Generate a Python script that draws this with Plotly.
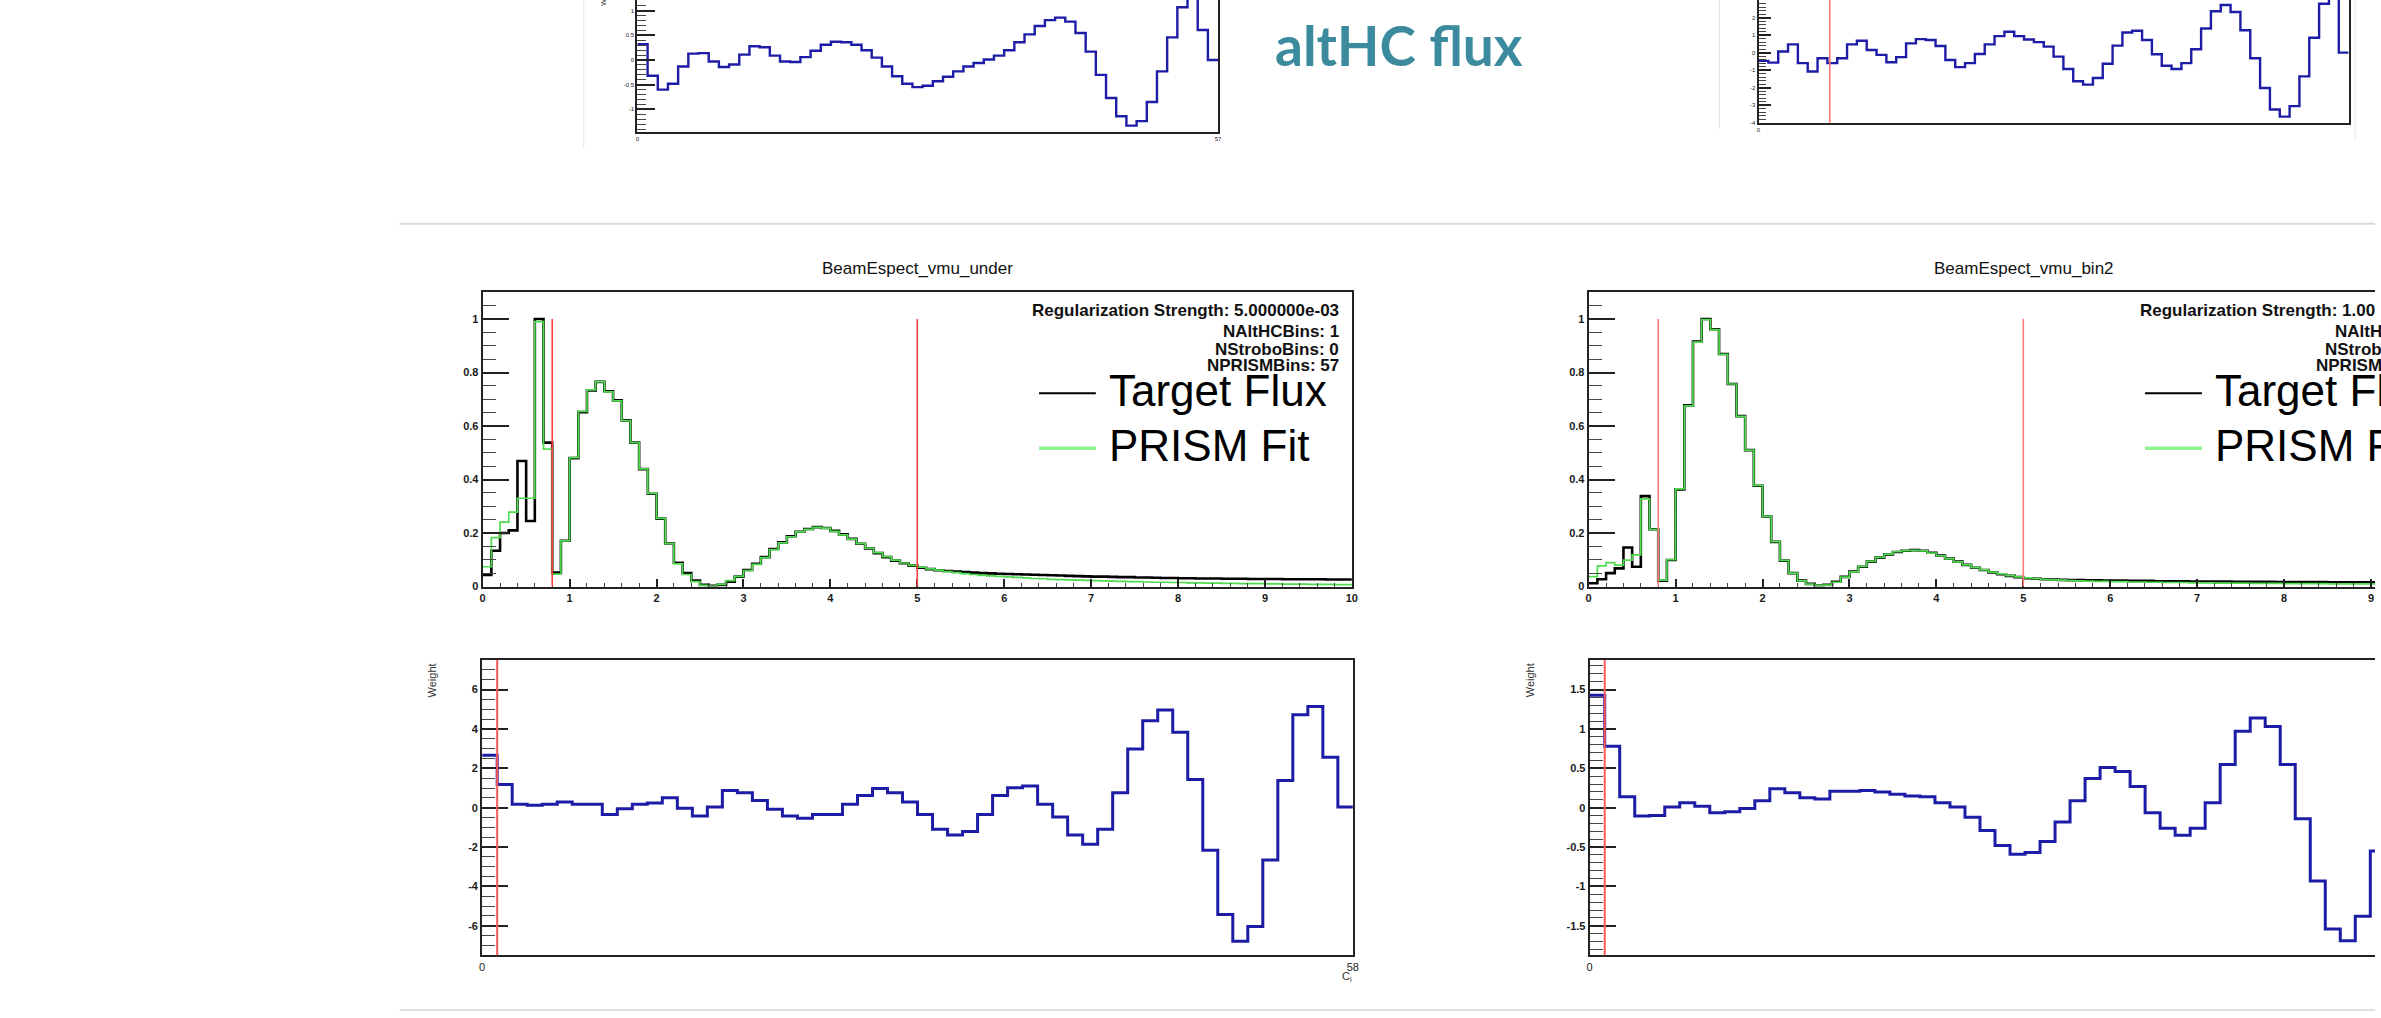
import plotly.graph_objects as go

W, H = 2381, 1018

# ---------------- data ----------------
E_STEP = 0.1  # GeV per bin in the flux panels

TARGET_UNDER = [
    0.043, 0.134, 0.200, 0.210, 0.469, 0.245, 1.000, 0.538, 0.052, 0.171,
    0.480, 0.652, 0.733, 0.765, 0.730, 0.696, 0.621, 0.538, 0.439, 0.347,
    0.254, 0.161, 0.089, 0.050, 0.022, 0.006, 0.003, 0.006, 0.018, 0.037,
    0.062, 0.085, 0.110, 0.140, 0.165, 0.188, 0.205, 0.215, 0.222, 0.219,
    0.208, 0.195, 0.178, 0.160, 0.142, 0.125, 0.110, 0.097, 0.087, 0.078,
    0.070, 0.065, 0.061, 0.058, 0.056, 0.054, 0.052, 0.050, 0.049, 0.048,
    0.047, 0.046, 0.045, 0.044, 0.043, 0.042, 0.041, 0.040, 0.039, 0.038,
    0.037, 0.037, 0.036, 0.035, 0.035, 0.034, 0.034, 0.033, 0.032, 0.032,
    0.031, 0.031, 0.030, 0.030, 0.030, 0.029, 0.029, 0.029, 0.028, 0.028,
    0.028, 0.028, 0.027, 0.027, 0.027, 0.027, 0.027, 0.026, 0.026, 0.026,
]
FIT_UNDER = [
    0.074, 0.183, 0.241, 0.278, 0.330, 0.330, 0.990, 0.514, 0.046, 0.171,
    0.482, 0.655, 0.735, 0.765, 0.728, 0.694, 0.620, 0.538, 0.440, 0.348,
    0.255, 0.160, 0.085, 0.045, 0.018, 0.004, 0.002, 0.008, 0.022, 0.038,
    0.060, 0.083, 0.108, 0.138, 0.163, 0.186, 0.204, 0.214, 0.221, 0.218,
    0.206, 0.193, 0.177, 0.160, 0.143, 0.127, 0.112, 0.099, 0.088, 0.079,
    0.072, 0.066, 0.061, 0.056, 0.052, 0.048, 0.045, 0.042, 0.040, 0.038,
    0.036, 0.034, 0.032, 0.030, 0.029, 0.027, 0.026, 0.025, 0.024, 0.023,
    0.022, 0.021, 0.020, 0.019, 0.018, 0.018, 0.017, 0.016, 0.016, 0.015,
    0.015, 0.014, 0.014, 0.013, 0.013, 0.012, 0.012, 0.011, 0.011, 0.011,
    0.010, 0.010, 0.009, 0.009, 0.009, 0.008, 0.008, 0.008, 0.007, 0.007,
]
TARGET_BIN2 = [
    0.012, 0.027, 0.050, 0.068, 0.146, 0.074, 0.338, 0.214, 0.022, 0.099,
    0.363, 0.677, 0.916, 1.000, 0.962, 0.869, 0.757, 0.637, 0.510, 0.377,
    0.262, 0.167, 0.097, 0.050, 0.022, 0.010, 0.004, 0.006, 0.018, 0.036,
    0.056, 0.074, 0.093, 0.108, 0.120, 0.129, 0.134, 0.136, 0.134, 0.126,
    0.116, 0.105, 0.093, 0.081, 0.070, 0.062, 0.053, 0.046, 0.040, 0.035,
    0.031, 0.029, 0.027, 0.026, 0.025, 0.024, 0.024, 0.023, 0.023, 0.022,
    0.022, 0.022, 0.021, 0.021, 0.021, 0.020, 0.020, 0.020, 0.020, 0.019,
    0.019, 0.019, 0.019, 0.019, 0.018, 0.018, 0.018, 0.018, 0.018, 0.017,
    0.017, 0.017, 0.017, 0.017, 0.017, 0.016, 0.016, 0.016, 0.016, 0.016,
    0.016, 0.015, 0.015, 0.015, 0.015, 0.015, 0.015, 0.014, 0.014, 0.014,
]
FIT_BIN2 = [
    0.037, 0.077, 0.089, 0.080, 0.099, 0.118, 0.328, 0.214, 0.024, 0.100,
    0.365, 0.675, 0.914, 0.998, 0.960, 0.868, 0.757, 0.636, 0.510, 0.378,
    0.262, 0.168, 0.098, 0.050, 0.021, 0.009, 0.004, 0.005, 0.016, 0.035,
    0.055, 0.075, 0.094, 0.109, 0.121, 0.130, 0.134, 0.135, 0.133, 0.125,
    0.115, 0.104, 0.092, 0.081, 0.071, 0.062, 0.054, 0.047, 0.041, 0.036,
    0.032, 0.029, 0.027, 0.025, 0.024, 0.022, 0.021, 0.020, 0.019, 0.019,
    0.018, 0.018, 0.017, 0.017, 0.016, 0.016, 0.015, 0.015, 0.015, 0.014,
    0.014, 0.014, 0.013, 0.013, 0.013, 0.013, 0.012, 0.012, 0.012, 0.012,
    0.011, 0.011, 0.011, 0.011, 0.011, 0.010, 0.010, 0.010, 0.010, 0.010,
    0.010, 0.009, 0.009, 0.009, 0.009, 0.009, 0.009, 0.008, 0.008, 0.008,
]
WEIGHT_UNDER = [
    2.66, 1.18, 0.17, 0.13, 0.17, 0.29, 0.17, 0.17, -0.34, -0.05,
    0.17, 0.24, 0.50, -0.03, -0.42, 0.03, 0.88, 0.76, 0.37, -0.08,
    -0.42, -0.54, -0.34, -0.34, 0.17, 0.62, 0.98, 0.76, 0.29, -0.34,
    -1.10, -1.38, -1.21, -0.34, 0.62, 1.01, 1.10, 0.17, -0.47, -1.38,
    -1.85, -1.10, 0.76, 2.98, 4.42, 4.97, 3.83, 1.43, -2.16, -5.43,
    -6.78, -6.04, -2.66, 1.38, 4.72, 5.14, 2.56, 0.03,
]
WEIGHT_BIN2 = [  # bins visible before the right edge of the slide
    1.43, 0.78, 0.14, -0.105, -0.10, 0.01, 0.063, 0.02, -0.063, -0.05,
    -0.01, 0.09, 0.24, 0.19, 0.126, 0.11, 0.21, 0.21, 0.22, 0.20,
    0.17, 0.15, 0.14, 0.063, 0.01, -0.12, -0.29, -0.48, -0.59, -0.57,
    -0.43, -0.18, 0.09, 0.37, 0.51, 0.46, 0.27, -0.063, -0.26, -0.35,
    -0.26, 0.063, 0.55, 0.97, 1.14, 1.03, 0.55, -0.14, -0.93, -1.54,
    -1.69, -1.38, -0.55,
]
WEIGHT_TOP_LEFT = [
    0.32, -0.32, -0.60, -0.48, -0.13, 0.13, 0.14, -0.03, -0.14, -0.09,
    0.11, 0.28, 0.26, 0.09, -0.03, -0.04, 0.06, 0.19, 0.31, 0.37,
    0.36, 0.31, 0.20, 0.05, -0.13, -0.33, -0.48, -0.55, -0.52, -0.43,
    -0.34, -0.23, -0.13, -0.06, 0.01, 0.09, 0.20, 0.36, 0.52, 0.69,
    0.81, 0.86, 0.78, 0.55, 0.17, -0.30, -0.77, -1.14, -1.33, -1.24,
    -0.85, -0.23, 0.46, 1.07, 1.32, 0.61, 0.00,
]
WEIGHT_TOP_RIGHT = [
    -0.47, -0.57, 0.06, 0.47, -0.60, -1.08, -0.32, -0.60, -0.32, 0.47,
    0.68, 0.15, -0.13, -0.55, -0.26, 0.53, 0.77, 0.72, 0.38, -0.42,
    -0.83, -0.60, -0.08, 0.47, 0.94, 1.19, 0.94, 0.75, 0.60, 0.34,
    -0.23, -0.94, -1.64, -1.83, -1.45, -0.64, 0.40, 1.15, 1.25, 0.72,
    -0.09, -0.75, -0.94, -0.60, 0.19, 1.38, 2.36, 2.72, 2.32, 1.28,
    -0.32, -2.02, -3.25, -3.66, -3.06, -1.36, 0.85, 2.79, 3.30, 0.00,
]
N_WEIGHT_BINS = 58
FIT_WINDOW = [0.8, 5.0]
ALTHC_EDGE = 1
TOP_RIGHT_MARKER = 7.25

FLUX_Y_TICKS = [0, 0.2, 0.4, 0.6, 0.8, 1]
FLUX_X_TICKS = [0, 1, 2, 3, 4, 5, 6, 7, 8, 9, 10]
W_UNDER_TICKS = [-6, -4, -2, 0, 2, 4, 6]
W_BIN2_TICKS = [-1.5, -1, -0.5, 0, 0.5, 1, 1.5]
TL_TICKS = [-1, -0.5, 0, 0.5, 1]
TR_TICKS = [-4, -3, -2, -1, 0, 1, 2, 3]

TITLES = ["BeamEspect_vmu_under", "BeamEspect_vmu_bin2"]
STATS_UNDER = ["Regularization Strength: 5.000000e-03", "NAltHCBins: 1", "NStroboBins: 0", "NPRISMBins: 57"]
# the right-hand panel runs off the slide: only the visible part of each text is shown
STATS_BIN2_VISIBLE = ["Regularization Strength: 1.00", "NAltH", "NStrob", "NPRISM"]
LEGEND = ["Target Flux", "PRISM Fit"]
LEGEND_BIN2_VISIBLE = ["Target Fl", "PRISM F"]
HEADING = "altHC flux"

# ---------------- styling helpers ----------------
FONT = "Liberation Sans, Arial, Helvetica, sans-serif"
BLUE = "#1c1ca6"
GREEN = "#4fdc4f"
GREEN_SW = "#8ef08e"
RED = "#ff4040"
FRAME = "#222222"


def fx(p):
    return p / W


def fy(p):
    return 1 - p / H


def fmt(v):
    return f"{v:g}"


def edges(n, step):
    return [round(i * step, 6) for i in range(n + 1)]


def hist(values, step, xa, ya, color, width):
    return go.Scatter(
        x=edges(len(values), step), y=list(values) + [values[-1]],
        mode="lines", line=dict(color=color, width=width, shape="hv"),
        xaxis=xa, yaxis=ya, hoverinfo="skip", showlegend=False)


def axis(domain, rng, anchor, tickvals, ticklen, fsize, mirror, minor=None, show_ticks=True, bold=True):
    d = dict(domain=domain, range=rng, anchor=anchor, showgrid=False, zeroline=False,
             showline=True, linecolor=FRAME, linewidth=2, mirror=mirror,
             tickmode="array", tickvals=tickvals, ticktext=[fmt(v) for v in tickvals],
             ticks="inside" if show_ticks else "", ticklen=ticklen, tickwidth=1.8,
             tickcolor=FRAME,
             tickfont=dict(family=FONT, size=fsize, color="#1a1a1a",
                           weight="bold" if bold else "normal"),
             fixedrange=True)
    if minor is not None:
        d["minor"] = dict(ticks="inside", tickmode="linear", tick0=0, dtick=minor[0],
                          ticklen=minor[1], tickwidth=1.2, tickcolor="#444", showgrid=False)
    return d


fig = go.Figure()

fig.add_trace(hist(WEIGHT_TOP_LEFT, 1, "x", "y", BLUE, 2.4))
fig.add_trace(hist(WEIGHT_TOP_RIGHT, 1, "x2", "y2", BLUE, 2.4))
fig.add_trace(hist(TARGET_UNDER, E_STEP, "x3", "y3", "black", 2.6))
fig.add_trace(hist(FIT_UNDER, E_STEP, "x3", "y3", GREEN, 1.7))
fig.add_trace(hist(TARGET_BIN2, E_STEP, "x4", "y4", "black", 2.6))
fig.add_trace(hist(FIT_BIN2, E_STEP, "x4", "y4", GREEN, 1.7))
fig.add_trace(hist(WEIGHT_UNDER, 1, "x5", "y5", BLUE, 3))
fig.add_trace(hist(WEIGHT_BIN2, 1, "x6", "y6", BLUE, 3))

# geometry in pixels
FLUX_PX_PER_GEV = 87.25
W_PX_PER_BIN = (1355 - 481) / N_WEIGHT_BINS
right_flux_max = (W - 1591.7) / FLUX_PX_PER_GEV
right_w_max = (W - 1592.7) / W_PX_PER_BIN

layout = dict(
    width=W, height=H, margin=dict(l=0, r=0, t=0, b=0),
    paper_bgcolor="white", plot_bgcolor="white", showlegend=False,
    xaxis=axis([fx(636.8), fx(1219.7)], [0, len(WEIGHT_TOP_LEFT)], "y",
               [0, len(WEIGHT_TOP_LEFT)], 0, 6, False, show_ticks=False, bold=False),
    yaxis=axis([fy(132.3), 1], [-1.45, 1.218], "x", TL_TICKS, 18, 6, True, minor=(0.1, 9), bold=False),
    xaxis2=axis([fx(1762.2), fx(2354.5)], [0, len(WEIGHT_TOP_RIGHT)], "y2",
                [0], 0, 6, False, show_ticks=False, bold=False),
    yaxis2=axis([fy(123.5), 1], [-4.01, 3.006], "x2", TR_TICKS, 12, 6, True, minor=(0.2, 7), bold=False),
    xaxis3=axis([fx(481.5), fx(1354)], [0, 10], "y3", FLUX_X_TICKS, 8, 11, True, minor=(0.2, 4)),
    yaxis3=axis([fy(590), fy(294)], [0, 1.1], "x3", FLUX_Y_TICKS, 26, 11, True, minor=(0.05, 13)),
    xaxis4=axis([fx(1591.7), 1], [0, right_flux_max], "y4", FLUX_X_TICKS, 8, 11, True, minor=(0.2, 4)),
    yaxis4=axis([fy(590), fy(294)], [0, 1.1], "x4", FLUX_Y_TICKS, 26, 11, False, minor=(0.05, 13)),
    xaxis5=axis([fx(481), fx(1355)], [0, N_WEIGHT_BINS], "y5", [0, N_WEIGHT_BINS], 0, 11, True,
                show_ticks=False, bold=False),
    yaxis5=axis([fy(961), fy(664)], [-7.5, 7.5], "x5", W_UNDER_TICKS, 26, 11, True, minor=(0.5, 13)),
    xaxis6=axis([fx(1592.7), 1], [0, right_w_max], "y6", [0, N_WEIGHT_BINS], 0, 11, True,
                show_ticks=False, bold=False),
    yaxis6=axis([fy(961), fy(664)], [-1.875, 1.875], "x6", W_BIN2_TICKS, 26, 11, False, minor=(0.1, 13)),
)
fig.update_layout(**layout)

shapes = []
shapes.append(dict(type="line", xref="paper", yref="paper", x0=fx(398), x1=1, y0=fy(225), y1=fy(225),
                   line=dict(color="#d9d9d9", width=2)))
shapes.append(dict(type="line", xref="paper", yref="paper", x0=fx(398), x1=1, y0=fy(1016), y1=fy(1016),
                   line=dict(color="#e0e0e0", width=2)))
for bx, by in [(583, 149), (1723, 130), (2361, 140)]:
    shapes.append(dict(type="line", xref="paper", yref="paper", x0=fx(bx), x1=fx(bx), y0=fy(by), y1=1,
                       line=dict(color="#e6e6e6", width=1)))
for xa, ya, col in [("x3", "y3", RED), ("x4", "y4", "#ff7a7a")]:
    for xv in FIT_WINDOW:
        shapes.append(dict(type="line", xref=xa, yref=ya, x0=xv, x1=xv, y0=0, y1=1,
                           line=dict(color=col, width=1.6), layer="above"))
for xa, ya in [("x5", "y5 domain"), ("x6", "y6 domain")]:
    shapes.append(dict(type="line", xref=xa, yref=ya, x0=ALTHC_EDGE, x1=ALTHC_EDGE, y0=0, y1=1,
                       line=dict(color="#ff5a5a", width=2), layer="above"))
shapes.append(dict(type="line", xref="x2", yref="y2 domain", x0=TOP_RIGHT_MARKER, x1=TOP_RIGHT_MARKER,
                   y0=0, y1=1, line=dict(color="#ff6f6f", width=1.5), layer="above"))

annotations = []
annotations.append(dict(text=f"<b>{HEADING}</b>", xref="paper", yref="paper", x=fx(1275), y=fy(45),
                        xanchor="left", yanchor="middle", showarrow=False,
                        font=dict(family="Lato, Open Sans, sans-serif", size=55, color="#3c8a9e")))

STAT_Y = [312.3, 333.3, 351.7, 367.5]
STAT_FONT = dict(family=FONT, size=17, color="#111")
LEG_ROWS = [(392.5, 395.7, "black", 2), (448.3, 451.0, GREEN_SW, 3.5)]

for k, off in enumerate([0.0, 1110.2]):
    annotations.append(dict(text=TITLES[k], xref="paper", yref="paper", x=fx(918 + off), y=fy(270),
                            xanchor="center", yanchor="middle", showarrow=False,
                            font=dict(family=FONT, size=17, color="#111")))
    for (yt, ys, col, lw) in LEG_ROWS:
        shapes.append(dict(type="line", xref="paper", yref="paper", x0=fx(1040 + off), x1=fx(1097 + off),
                           y0=fy(ys), y1=fy(ys), line=dict(color=col, width=lw)))

for line, yy in zip(STATS_UNDER, STAT_Y):
    annotations.append(dict(text=f"<b>{line}</b>", xref="paper", yref="paper", x=fx(1342.7),
                            y=fy(yy), xanchor="right", yanchor="middle", showarrow=False, font=STAT_FONT))
for line, yy, x0 in zip(STATS_BIN2_VISIBLE, STAT_Y, [2143.3, 2339.3, 2329.3, 2319.3]):
    annotations.append(dict(text=f"<b>{line}</b>", xref="paper", yref="paper", x=fx(x0),
                            y=fy(yy), xanchor="left", yanchor="middle", showarrow=False, font=STAT_FONT))
for names, off in [(LEGEND, 0.0), (LEGEND_BIN2_VISIBLE, 1110.2)]:
    for name, (yt, ys, col, lw) in zip(names, LEG_ROWS):
        annotations.append(dict(text=name, xref="paper", yref="paper", x=fx(1108 + off), y=fy(yt),
                                xanchor="left", yanchor="middle", showarrow=False,
                                font=dict(family=FONT, size=44, color="black")))

for wx in [431, 1533]:
    annotations.append(dict(text="Weight", xref="paper", yref="paper", x=fx(wx), y=fy(665),
                            xanchor="center", yanchor="top", textangle=-90, showarrow=False,
                            font=dict(family=FONT, size=11, color="#333")))
annotations.append(dict(text="Weight", xref="paper", yref="paper", x=fx(603), y=fy(8),
                        xanchor="center", yanchor="bottom", textangle=-90, showarrow=False,
                        font=dict(family=FONT, size=7, color="#333")))
annotations.append(dict(text="C<sub>i</sub>", xref="paper", yref="paper", x=fx(1349), y=fy(983),
                        xanchor="center", yanchor="middle", showarrow=False,
                        font=dict(family=FONT, size=11, color="#333")))

fig.update_layout(shapes=shapes, annotations=annotations)

fig.write_html("out.html", config={"displayModeBar": False},
               post_script="document.body.style.margin='0px';")
